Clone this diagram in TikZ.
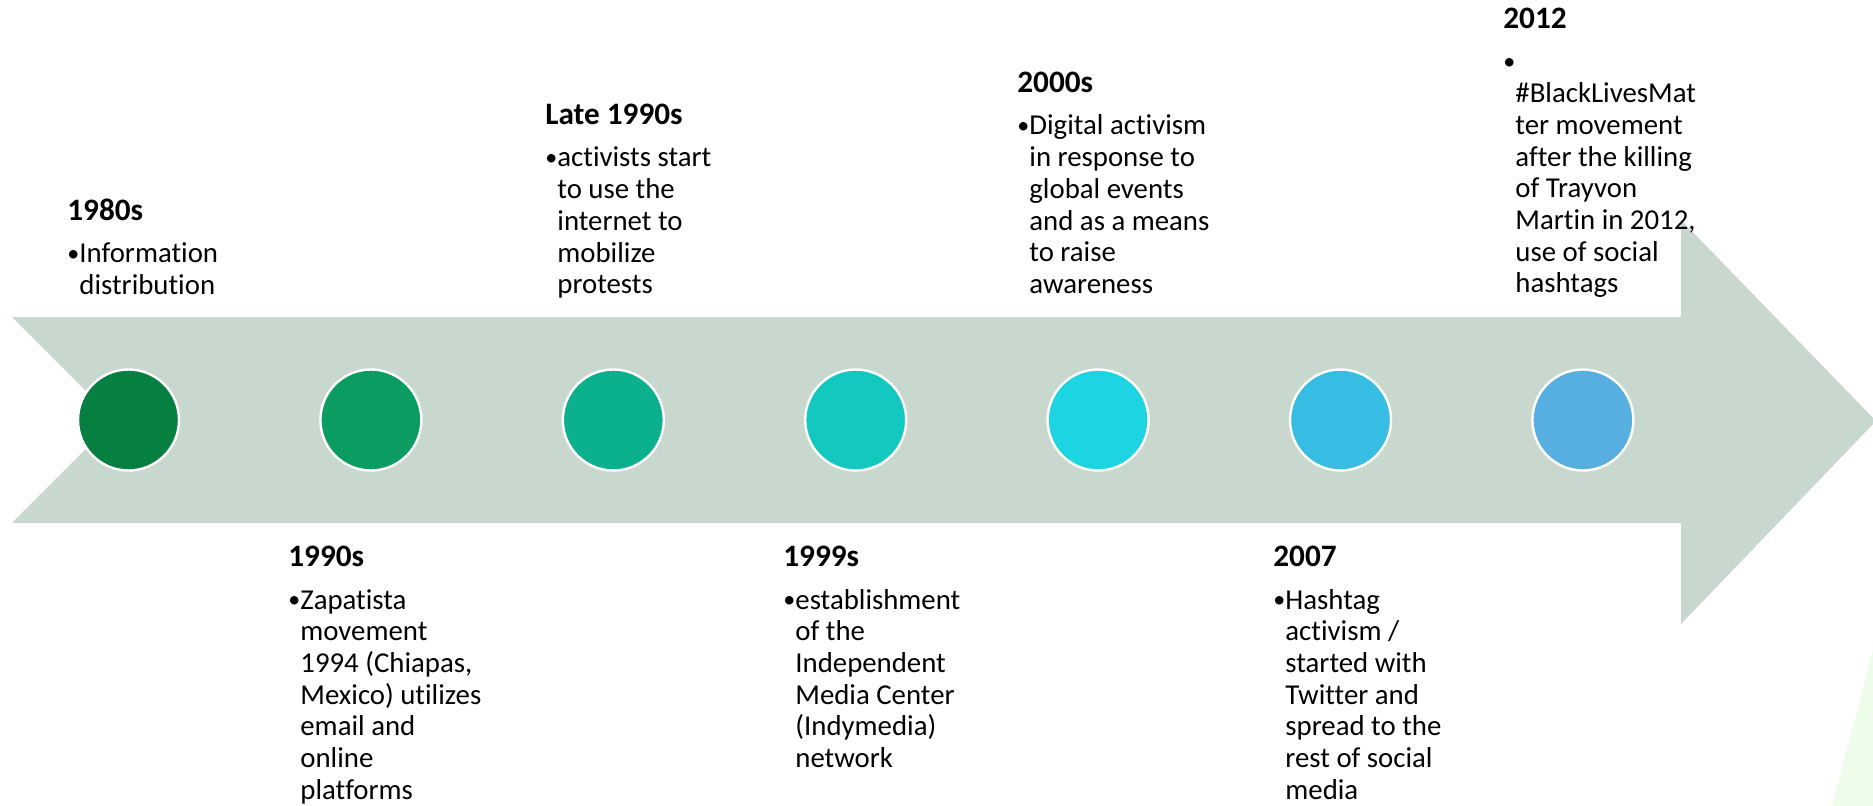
\documentclass[tikz,border=0pt]{standalone}
\usepackage{fontspec}
\setmainfont{Carlito}[Ligatures = NoCommon]
\usepackage{tikz}

\definecolor{band}{HTML}{C9D8CE}
\definecolor{sliver}{HTML}{EEFCEA}
\definecolor{c1}{HTML}{068040}
\definecolor{c2}{HTML}{0A9C60}
\definecolor{c3}{HTML}{0BB08C}
\definecolor{c4}{HTML}{13C9BF}
\definecolor{c5}{HTML}{1DD4E3}
\definecolor{c6}{HTML}{37BDE3}
\definecolor{c7}{HTML}{57AFE1}

\newcommand{\yr}[1]{{\fontsize{15.6}{15.85}\selectfont\bfseries #1}}
\newcommand{\bulmark}{\raisebox{0.7pt}{\fontsize{12}{12}\selectfont\textbullet}}
\newcommand{\bul}{\makebox[6pt][l]{\bulmark}}
\newcommand{\ind}{\hspace*{6pt}}

\begin{document}
\begin{tikzpicture}[
    x = 0.5pt,
    y = -0.5pt,
    stage/.style = {circle,
      draw = white,
      line width = 1.2pt,
      minimum size = {50.5pt},
      inner sep = 0pt},
    event/.style = {inner sep = 0pt,
      anchor = base west,
      font = \fontsize{14.4}{15.85}\selectfont},
    ]

    \useasboundingbox (0, 0) rectangle (1873, 806);

    \fill [sliver] (1873, 650) -- (1832, 806) -- (1873, 806) -- cycle;

    \fill [band] (12, 317) -- (1681, 317) -- (1681, 220) -- (1876, 421)
    -- (1681, 624) -- (1681, 523) -- (12, 523) -- (115, 420) -- cycle;

    \foreach \col [count = \i] in {c1, c2, c3, c4, c5, c6, c7}
      \node at ({128.5 + 242.4 * (\i - 1)}, 420) [stage, fill = \col, name = c\i] {};

    % above the band
    \node at (67, 221) [event, name = t1980s]
    {\begin{tabular}[t]{@{}l@{}}\yr{1980s}\\[5.15pt]
      \bul Information\\ \ind distribution\end{tabular}};

    \node at (545, 125) [event, name = tlate1990s]
    {\begin{tabular}[t]{@{}l@{}}\yr{Late 1990s}\\[5.15pt]
      \bul activists start\\ \ind to use the\\ \ind internet to\\
      \ind mobilize\\ \ind protests\end{tabular}};

    \node at (1017, 93) [event, name = t2000s]
    {\begin{tabular}[t]{@{}l@{}}\yr{2000s}\\[5.15pt]
      \bul Digital activism\\ \ind in response to\\ \ind global events\\
      \ind and as a means\\ \ind to raise\\ \ind awareness\end{tabular}};

    \node at (1503, 29) [event, name = t2012]
    {\begin{tabular}[t]{@{}l@{}}\yr{2012}\\[5.15pt]
      \bulmark\\ \ind\#BlackLivesMat\\ \ind ter movement\\
      \ind after the killing\\ \ind of Trayvon\\ \ind Martin in 2012,\\
      \ind use of social\\ \ind hashtags\end{tabular}};

    % below the band
    \node at (288, 567) [event, name = t1990s]
    {\begin{tabular}[t]{@{}l@{}}\yr{1990s}\\[5.15pt]
      \bul Zapatista\\ \ind movement\\ \ind 1994 (Chiapas,\\
      \ind Mexico) utilizes\\ \ind email and\\ \ind online\\
      \ind platforms\end{tabular}};

    \node at (783, 567) [event, name = t1999s]
    {\begin{tabular}[t]{@{}l@{}}\yr{1999s}\\[5.15pt]
      \bul establishment\\ \ind of the\\ \ind Independent\\
      \ind Media Center\\ \ind (Indymedia)\\ \ind network\end{tabular}};

    \node at (1273, 567) [event, name = t2007]
    {\begin{tabular}[t]{@{}l@{}}\yr{2007}\\[5.15pt]
      \bul Hashtag\\ \ind activism /\\ \ind started with\\
      \ind Twitter and\\ \ind spread to the\\ \ind rest of social\\
      \ind media\end{tabular}};
  \end{tikzpicture}
\end{document}
